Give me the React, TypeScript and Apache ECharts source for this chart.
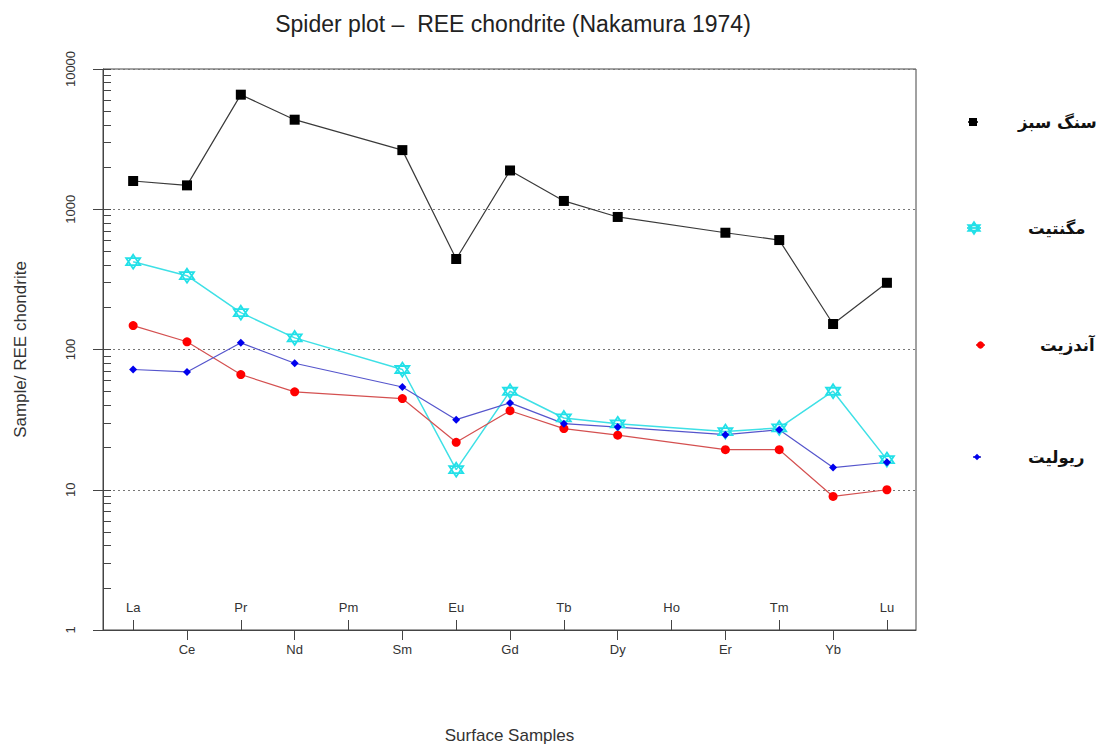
import React, { useEffect, useRef } from "react";
import * as echarts from "echarts";

const elements = ["La", "Ce", "Pr", "Nd", "Pm", "Sm", "Eu", "Gd", "Tb", "Dy", "Ho", "Er", "Tm", "Yb", "Lu"];
const greenStone = [1590, 1480, 6560, 4350, null, 2640, 442, 1890, 1146, 881, null, 680, 603, 152, 299];
const magnetite = [423, 336, 183, 121, null, 72, 13.9, 50.4, 32.5, 29.5, null, 26, 27.6, 50.4, 16.4];
const andesite = [148, 113.5, 66.3, 49.9, null, 44.7, 21.8, 36.6, 27.3, 24.5, null, 19.3, 19.3, 8.96, 10];
const rhyolite = [72, 69.2, 111.6, 79.8, null, 54, 31.6, 41.6, 29.6, 28, null, 24.7, 26.8, 14.4, 15.7];
const seriesNames = ["سنگ سبز", "مگنتیت", "آندزیت", "ریولیت"];
const majorTicks = [1, 10, 100, 1000, 10000];

const upperIdx = elements.map((_, i) => i).filter((i) => i % 2 === 0);
const lowerIdx = elements.map((_, i) => i).filter((i) => i % 2 === 1);
const minorTicks: number[] = [];
[1, 10, 100, 1000].forEach((d) => {
  for (let k = 1; k <= 9; k++) minorTicks.push(k * d);
});
minorTicks.push(10000);

const toPairs = (arr: (number | null)[]) =>
  arr.map((v, i) => [i, v]).filter((p) => p[1] !== null);

const HEX = "path://M10,0 L18.66,15 L1.34,15 Z M10,20 L18.66,5 L1.34,5 Z";
const FONT = "'Liberation Sans', Arial, 'DejaVu Sans', sans-serif";

export default function App() {
  const ref = useRef<HTMLDivElement>(null);
  useEffect(() => {
    document.body.style.margin = "0";
    const chart = echarts.init(ref.current!, null, { renderer: "svg" });
    const xMin = -0.56;
    const xMax = 14.54;
    const legendBase = (name: string, left: number, centerY: number, w: number, h: number, padL: number) => ({
      data: [name],
      orient: "vertical",
      left,
      top: centerY - 11,
      padding: 0,
      itemWidth: w,
      itemHeight: h,
      selectedMode: false,
      textStyle: {
        fontFamily: "'DejaVu Sans', sans-serif",
        fontSize: 16.5,
        fontWeight: "bold",
        color: "#111",
        lineHeight: 22,
        padding: [0, 0, 0, padL],
      },
    });
    chart.setOption({
      animation: false,
      backgroundColor: "#ffffff",
      textStyle: { fontFamily: FONT },
      title: {
        text: "Spider plot –  REE chondrite (Nakamura 1974)",
        left: 508,
        textAlign: "center",
        top: 7,
        textStyle: { fontFamily: FONT, fontSize: 23, fontWeight: "normal", color: "#222" },
      },
      legend: [
        legendBase(seriesNames[0], 967, 122, 10, 10, 35),
        legendBase(seriesNames[1], 966, 228, 14, 14, 42),
        legendBase(seriesNames[2], 975, 345, 9, 9, 50),
        legendBase(seriesNames[3], 972, 457, 8, 8, 42),
      ],
      grid: { left: 103, top: 69, width: 813, height: 563, show: true, borderColor: "#444", borderWidth: 1 },
      xAxis: [
        {
          type: "value",
          min: xMin,
          max: xMax,
          position: "bottom",
          axisLine: { show: true, onZero: false, lineStyle: { color: "#444", width: 1 } },
          axisTick: { show: true, inside: true, length: 10, customValues: upperIdx, lineStyle: { color: "#444" } },
          axisLabel: {
            show: true,
            inside: true,
            margin: 16,
            customValues: upperIdx,
            formatter: (v: number) => elements[Math.round(v)],
            fontSize: 13,
            color: "#333",
          },
          splitLine: { show: false },
        },
        {
          type: "value",
          min: xMin,
          max: xMax,
          position: "bottom",
          axisLine: { show: false, onZero: false },
          axisTick: { show: true, length: 10, customValues: lowerIdx, lineStyle: { color: "#444" } },
          axisLabel: {
            show: true,
            margin: 13,
            customValues: lowerIdx,
            formatter: (v: number) => elements[Math.round(v)],
            fontSize: 13,
            color: "#333",
          },
          splitLine: { show: false },
          name: "Surface Samples",
          nameLocation: "middle",
          nameGap: 97,
          nameTextStyle: { fontSize: 17, color: "#333", fontFamily: FONT },
        },
      ],
      yAxis: [
        {
          type: "log",
          logBase: 10,
          min: 1,
          max: 10000,
          position: "left",
          axisLine: { show: true, onZero: false, lineStyle: { color: "#444", width: 1 } },
          axisTick: { show: true, length: 10, customValues: majorTicks, lineStyle: { color: "#444" } },
          axisLabel: {
            rotate: 90,
            margin: 26,
            fontSize: 13,
            color: "#333",
            customValues: majorTicks,
            formatter: (v: number) => String(Math.round(v)),
          },
          splitLine: { show: true, lineStyle: { color: "#777", type: [2, 3], width: 1 } },
          name: "Sample/ REE chondrite",
          nameLocation: "middle",
          nameGap: 74,
          nameTextStyle: { fontSize: 17, color: "#333", fontFamily: FONT },
        },
        {
          type: "log",
          logBase: 10,
          min: 1,
          max: 10000,
          position: "left",
          axisLine: { show: false, onZero: false },
          axisTick: { show: true, inside: true, length: 8, customValues: minorTicks, lineStyle: { color: "#444" } },
          axisLabel: { show: false },
          splitLine: { show: false },
        },
      ],
      series: [
        {
          name: seriesNames[0],
          type: "line",
          data: toPairs(greenStone),
          symbol: "rect",
          symbolSize: 10,
          itemStyle: { color: "#000000" },
          lineStyle: { color: "#3a3a3a", width: 1.2 },
        },
        {
          name: seriesNames[1],
          type: "line",
          data: toPairs(magnetite),
          symbol: HEX,
          symbolSize: 14,
          itemStyle: { color: "#ffffff", borderColor: "#22e0e8", borderWidth: 1.8 },
          lineStyle: { color: "#3ee0e6", width: 1.5 },
        },
        {
          name: seriesNames[2],
          type: "line",
          data: toPairs(andesite),
          symbol: "circle",
          symbolSize: 9,
          itemStyle: { color: "#ff0000" },
          lineStyle: { color: "#d45050", width: 1.2 },
        },
        {
          name: seriesNames[3],
          type: "line",
          data: toPairs(rhyolite),
          symbol: "diamond",
          symbolSize: 8,
          itemStyle: { color: "#0000ee" },
          lineStyle: { color: "#5555cc", width: 1.2 },
        },
      ],
    });
    return () => chart.dispose();
  }, []);
  return <div ref={ref} style={{ position: "fixed", left: 0, top: 0, width: 1108, height: 749 }} />;
}
